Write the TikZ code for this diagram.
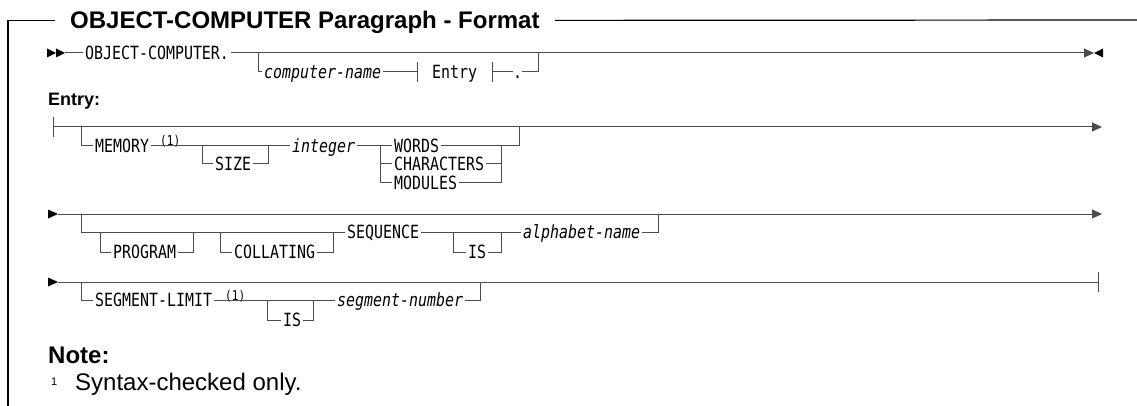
\documentclass[tikz,border=0pt]{standalone}
\usepackage{fontspec}
\setmainfont{Liberation Sans}
\newfontfamily\railfont[FakeStretch=0.82]{DejaVu Sans Mono}
\usetikzlibrary{arrows.meta}

\begin{document}
\begin{tikzpicture}[x=1pt, y=-1pt, >={Triangle[length=10pt,width=9pt]},
    rail/.style={draw=black!70, line width=1pt},
    box line/.style={draw=black, line width=1.2pt},
    key word/.style={anchor=west, inner xsep=2pt, inner ysep=0pt, text height=13.3pt,
                     text depth=0pt, font=\railfont\fontsize{18.2}{20}\selectfont},
    var name/.style={key word, font=\railfont\itshape\fontsize{18.2}{20}\selectfont},
    note mark/.style={anchor=base west, inner sep=0pt, font=\railfont\fontsize{13.5}{15}\selectfont},
    heading/.style={anchor=base west, inner sep=0pt, font=\bfseries\fontsize{24}{28}\selectfont},
    tip fill/.style={fill=black}]
  \useasboundingbox (0,0) rectangle (1137,406);

  % frame and title
  \node[heading, inner xsep=15pt, text height=17.2pt, text depth=0pt] (title) at (55,29)
    {OBJECT-COMPUTER Paragraph - Format};
  \coordinate (fb) at (8,406);
  \coordinate (fr) at (1137,20);
  \draw[box line] (fb) |- (title.west);
  \draw[box line] (title.east) -- (fr);

  % row 1
  \fill[tip fill] (47,48.5) -- (56,53) -- (47,57.5) -- cycle;
  \fill[tip fill] (56,48.5) -- (65,53) -- (56,57.5) -- cycle;
  \coordinate (r1s) at (65,53);
  \coordinate (r1e) at (1094,53);
  \node[key word] (obj) at (83,53) {OBJECT-COMPUTER.};
  \coordinate (b1) at (258,53);
  \coordinate (b1e) at (538,53);
  \node[var name] (cname) at (262,72) {computer-name};
  \node[key word, inner xsep=15pt] (entref) at (417,72) {Entry};
  \node[key word, inner xsep=0pt] (dot) at (513,72) {.};
  \draw[rail] (r1s) -- (obj);
  \draw[rail, ->] (obj) -- (r1e);
  \fill[tip fill] (1103,48.5) -- (1094,53) -- (1103,57.5) -- cycle;
  \draw[rail] (b1) |- (cname);
  \draw[rail] (cname) -- (entref);
  \draw[rail] ([yshift=10pt]entref.west) -- ([yshift=-10pt]entref.west);
  \draw[rail] ([yshift=10pt]entref.east) -- ([yshift=-10pt]entref.east);
  \draw[rail] (entref) -- (dot);
  \draw[rail] (dot) -| (b1e);

  % row 2
  \node[heading, font=\bfseries\fontsize{18}{22}\selectfont] (entry) at (48,106) {Entry:};
  \coordinate (r2s) at (53,127);
  \coordinate (r2e) at (1102,127);
  \draw[rail] ([yshift=10pt]r2s) -- ([yshift=-10pt]r2s);
  \draw[rail, ->] (r2s) -- (r2e);
  \coordinate (b2) at (81,127);
  \node[key word] (mem) at (93,146) {MEMORY};
  \node[note mark] (n1) at (160,146) {(1)};
  \coordinate (sz1) at (202,146);
  \coordinate (sz2) at (268,146);
  \node[key word] (size) at (213,164) {SIZE};
  \node[var name] (int) at (290,146) {integer};
  \coordinate (c1) at (380,146);
  \coordinate (c2) at (501,146);
  \coordinate (c3) at (519,127);
  \node[key word] (words) at (392,146) {WORDS};
  \node[key word] (chars) at (392,164) {CHARACTERS};
  \node[key word] (mods) at (392,183) {MODULES};
  \draw[rail] (b2) |- (mem);
  \draw[rail] (mem) -- (int);
  \draw[rail] (sz1) |- (size);
  \draw[rail] (size) -| (sz2);
  \draw[rail] (int) -- (words);
  \draw[rail] (c1) |- (chars);
  \draw[rail] (c1) |- (mods);
  \draw[rail] (words) -| (c3);
  \draw[rail] (chars) -| (c2);
  \draw[rail] (mods) -| (c2);

  % row 3
  \fill[tip fill] (48,209.5) -- (58,214) -- (48,218.5) -- cycle;
  \coordinate (r3s) at (58,214);
  \coordinate (r3e) at (1102,214);
  \draw[rail, ->] (r3s) -- (r3e);
  \coordinate (b3) at (81,214);
  \coordinate (p1) at (100,232);
  \coordinate (p2) at (193,232);
  \coordinate (k1) at (220,232);
  \coordinate (k2) at (333,232);
  \coordinate (i1) at (453,232);
  \coordinate (i2) at (501,232);
  \coordinate (a2) at (658,214);
  \node[key word] (prog) at (111,252) {PROGRAM};
  \node[key word] (coll) at (232,252) {COLLATING};
  \node[key word] (seq) at (345,232) {SEQUENCE};
  \node[key word] (is1) at (466,252) {IS};
  \node[var name] (alpha) at (521,232) {alphabet-name};
  \draw[rail] (b3) |- (seq);
  \draw[rail] (p1) |- (prog);
  \draw[rail] (prog) -| (p2);
  \draw[rail] (k1) |- (coll);
  \draw[rail] (coll) -| (k2);
  \draw[rail] (seq) -- (alpha);
  \draw[rail] (i1) |- (is1);
  \draw[rail] (is1) -| (i2);
  \draw[rail] (alpha) -| (a2);

  % row 4
  \fill[tip fill] (48,277.5) -- (58,282) -- (48,286.5) -- cycle;
  \coordinate (r4s) at (58,282);
  \coordinate (r4e) at (1098,282);
  \draw[rail] (r4s) -- (r4e);
  \draw[rail] ([yshift=10pt]r4e) -- ([yshift=-10pt]r4e);
  \coordinate (b4) at (81,282);
  \node[key word] (seg) at (93,300) {SEGMENT-LIMIT};
  \node[note mark] (n2) at (225,300) {(1)};
  \coordinate (s1) at (267,300);
  \coordinate (s2) at (313,300);
  \node[key word] (is2) at (281,320) {IS};
  \node[var name] (segn) at (335,300) {segment-number};
  \coordinate (sn2) at (480,282);
  \draw[rail] (b4) |- (seg);
  \draw[rail] (seg) -- (segn);
  \draw[rail] (s1) |- (is2);
  \draw[rail] (is2) -| (s2);
  \draw[rail] (segn) -| (sn2);

  % note
  \node[heading] (note) at (48,363) {Note:};
  \node[anchor=base west, inner sep=0pt, font=\fontsize{11}{13}\selectfont] (fn1) at (51,385) {1};
  \node[anchor=base west, inner sep=0pt, font=\fontsize{24}{28}\selectfont] (fnt) at (75,390)
    {Syntax-checked only.};
\end{tikzpicture}
\end{document}
